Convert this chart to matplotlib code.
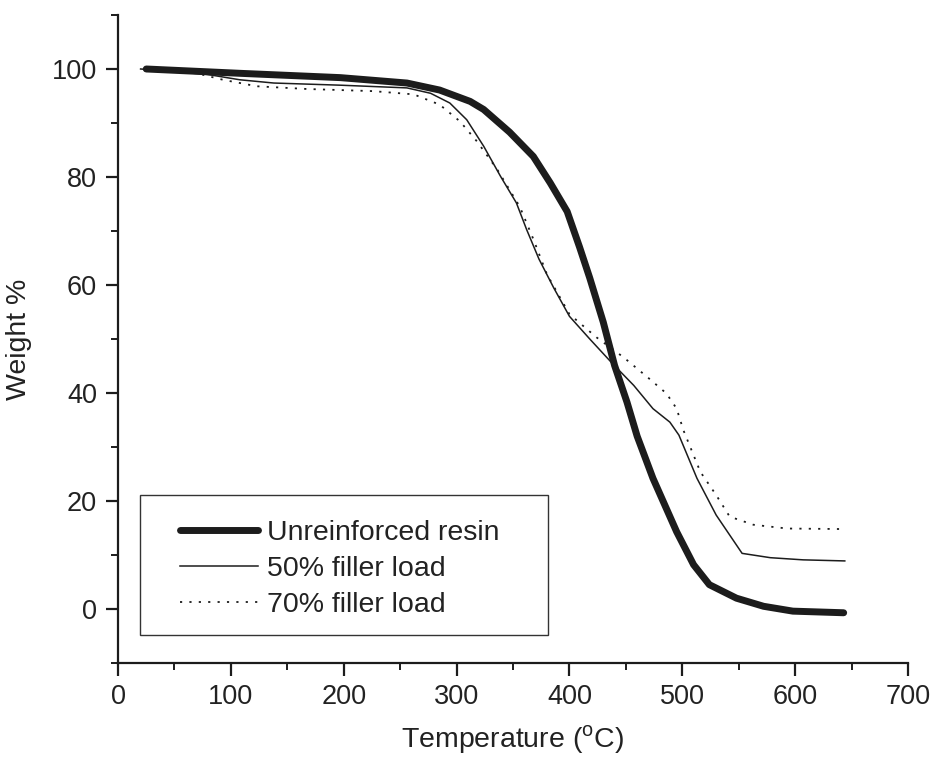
import matplotlib
matplotlib.use("Agg")
import matplotlib.pyplot as plt
from matplotlib.patches import Rectangle
from matplotlib.ticker import MultipleLocator

plt.rcParams['font.family'] = ['Liberation Sans', 'DejaVu Sans']
plt.rcParams['mathtext.fontset'] = 'custom'
plt.rcParams['mathtext.rm'] = 'Liberation Sans'

# Unreinforced resin
t_resin = [25, 108, 197, 256, 285, 312, 324, 347, 368, 383, 398, 409, 418, 430, 440,
           451, 460, 474, 495, 510, 524, 548, 572, 598, 643]
w_resin = [100, 99.2, 98.4, 97.4, 96.1, 94.0, 92.5, 88.3, 83.8, 78.9, 73.6, 67.0, 61.3,
           53.1, 45.1, 38.3, 32.0, 24.2, 14.3, 8.2, 4.5, 2.0, 0.5, -0.4, -0.7]

# 50% filler load
t_50 = [20, 79, 108, 138, 197, 256, 277, 294, 309, 324, 339, 353, 362, 373, 386, 400,
        418, 437, 457, 474, 489, 497, 513, 530, 553, 578, 607, 644]
w_50 = [100, 99.0, 98.0, 97.4, 97.0, 96.5, 95.5, 93.7, 90.6, 85.7, 80.1, 75.2, 70.3,
        64.8, 59.5, 54.2, 50.0, 45.7, 41.4, 37.1, 34.6, 32.2, 24.2, 17.4, 10.3, 9.5, 9.1, 8.9]

# 70% filler load
t_70 = [25, 70, 93, 123, 167, 226, 262, 285, 303, 318, 336, 356, 368, 380, 400, 424,
        448, 471, 486, 495, 501, 516, 530, 542, 563, 593, 643]
w_70 = [100, 99.2, 98.0, 96.8, 96.3, 95.9, 95.3, 93.4, 90.3, 86.6, 81.4, 74.5, 68.5,
        62.0, 54.6, 50.3, 46.6, 42.6, 39.9, 37.1, 33.1, 25.4, 21.1, 17.1, 15.6, 14.9, 14.8]

labels = ["Unreinforced resin", "50% filler load", "70% filler load"]
x_ticks = [0, 100, 200, 300, 400, 500, 600, 700]
y_ticks = [0, 20, 40, 60, 80, 100]

ink = '#1c1c1c'
fig = plt.figure(figsize=(9.33, 7.61), dpi=100)
ax = fig.add_axes([0.1265, 0.1288, 0.8467, 0.8515])

ax.plot(t_resin, w_resin, color=ink, lw=5.0, solid_capstyle='round',
        solid_joinstyle='round', label=labels[0])
ax.plot(t_50, w_50, color=ink, lw=1.1, solid_joinstyle='round', label=labels[1])
ax.plot(t_70, w_70, color=ink, lw=1.3, linestyle=(0, (1.2, 4.0)), label=labels[2])

ax.set_xlim(0, 700)
ax.set_ylim(-10, 110)
ax.set_xticks(x_ticks)
ax.set_yticks(y_ticks)
ax.xaxis.set_minor_locator(MultipleLocator(50))
ax.yaxis.set_minor_locator(MultipleLocator(10))

for s in ['top', 'right']:
    ax.spines[s].set_visible(False)
for s in ['left', 'bottom']:
    ax.spines[s].set_linewidth(1.6)
    ax.spines[s].set_color(ink)

ax.tick_params(which='major', direction='out', length=9, width=1.6, colors=ink,
               labelsize=19.5, pad=6, labelcolor='#222222')
ax.tick_params(which='minor', direction='out', length=5, width=1.4, colors=ink)

ax.set_xlabel(r'Temperature ($^{\rm o}$C)', fontsize=20.5, color='#222222', labelpad=10)
ax.set_ylabel('Weight %', fontsize=20.5, color='#222222', labelpad=14)

# legend box
ax.add_patch(Rectangle((0.028, 0.043), 0.516, 0.216, transform=ax.transAxes,
                       fill=False, edgecolor='#333333', lw=1.0))
leg = ax.legend(loc='upper left', bbox_to_anchor=(0.0785, 0.221), frameon=False,
                fontsize=20.5, handlelength=2.75, handletextpad=0.3,
                borderpad=0, borderaxespad=0, labelspacing=0.36)
for t in leg.get_texts():
    t.set_color('#222222')

fig.savefig('out.png', dpi=100)
